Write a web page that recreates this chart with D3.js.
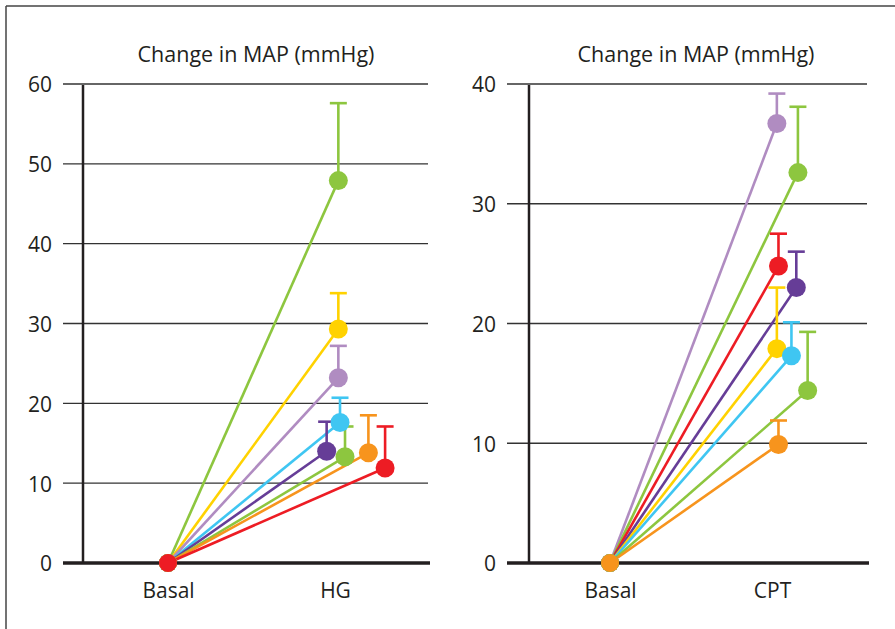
<!DOCTYPE html>
<html>
<head>
<meta charset="utf-8">
<script src="https://cdn.jsdelivr.net/npm/d3@7"></script>
<style>
  body { margin: 0; background: #fff; }
  text { font-family: "Open Sans", "Noto Sans", sans-serif; fill: #231f20; }
</style>
</head>
<body>
<svg id="chart" width="895" height="629"></svg>
<script>
// colours used by the subjects
const GREEN = "#8dc63f", YELLOW = "#ffd200", LILAC = "#b08cc1", CYAN = "#3fc6f2",
      PURPLE = "#663d97", ORANGE = "#f7941d", RED = "#ed1c24";

// left panel: handgrip
const hgCats = ["Basal", "HG"];
const hgTicks = [0, 10, 20, 30, 40, 50, 60];
const hgMean = [47.9, 29.3, 23.2, 17.6, 14.0, 13.3, 13.8, 11.9];
const hgErr = [9.7, 4.5, 4.0, 3.1, 3.7, 3.8, 4.7, 5.2];
const hgColors = [GREEN, YELLOW, LILAC, CYAN, PURPLE, GREEN, ORANGE, RED];
const hgDodge = [0.02, 0.02, 0.02, 0.03, -0.05, 0.06, 0.2, 0.3];

// right panel: cold pressor test
const cptCats = ["Basal", "CPT"];
const cptTicks = [0, 10, 20, 30, 40];
const cptMean = [36.7, 32.6, 24.8, 23.0, 17.9, 17.3, 14.4, 9.9];
const cptErr = [2.5, 5.5, 2.7, 3.0, 5.1, 2.8, 4.9, 2.0];
const cptColors = [LILAC, GREEN, RED, PURPLE, YELLOW, CYAN, GREEN, ORANGE];
const cptDodge = [0.03, 0.16, 0.04, 0.15, 0.03, 0.12, 0.22, 0.04];

const svg = d3.select("#chart");

// figure frame (top and left only)
svg.append("line").attr("x1", 6).attr("x2", 895).attr("y1", 6).attr("y2", 6)
    .attr("stroke", "#444").attr("stroke-width", 1.5);
svg.append("line").attr("x1", 6).attr("x2", 6).attr("y1", 6).attr("y2", 629)
    .attr("stroke", "#444").attr("stroke-width", 1.5);

drawPanel({
    cats: hgCats, ticks: hgTicks, mean: hgMean, err: hgErr, colors: hgColors, dodge: hgDodge,
    x0: 168, x1: 335, axisX: 83, gridL: 63, gridR: 428, titleX: 256
});
drawPanel({
    cats: cptCats, ticks: cptTicks, mean: cptMean, err: cptErr, colors: cptColors, dodge: cptDodge,
    x0: 610, x1: 772, axisX: 529, gridL: 507, gridR: 867, titleX: 696
});

function drawPanel(p) {
    const g = svg.append("g");
    const top = 84, bottom = 563;

    const y = d3.scaleLinear()
        .domain([0, d3.max(p.ticks)])
        .range([bottom, top]);
    const x = d3.scaleLinear()
        .domain([0, 1])
        .range([p.x0, p.x1]);

    g.append("text")
        .attr("x", p.titleX).attr("y", 62)
        .attr("text-anchor", "middle")
        .style("font-size", "21.5px")
        .text("Change in MAP (mmHg)");

    // gridlines
    g.selectAll(".grid")
        .data(p.ticks.filter(t => t > 0))
        .enter().append("line")
        .attr("x1", p.gridL).attr("x2", p.gridR)
        .attr("y1", d => y(d)).attr("y2", d => y(d))
        .attr("stroke", "#333").attr("stroke-width", 1.3);

    // y axis through d3, then restyled
    const yAxis = d3.axisLeft(y).tickValues(p.ticks).tickSize(0).tickPadding(0);
    const ag = g.append("g").attr("transform", `translate(${p.gridL - 11},0)`).call(yAxis);
    ag.select(".domain").remove();
    ag.selectAll("text")
        .style("font-size", "21px")
        .attr("dy", "0.38em");

    // x labels
    const xAxis = d3.axisBottom(x).tickValues([0, 1]).tickFormat((d, i) => p.cats[i]).tickSize(0).tickPadding(0);
    const xg = g.append("g").attr("transform", `translate(0,${bottom + 35})`).call(xAxis);
    xg.select(".domain").remove();
    xg.selectAll("text").style("font-size", "21px").attr("dy", 0);

    // vertical axis and zero line
    g.append("line")
        .attr("x1", p.axisX).attr("x2", p.axisX)
        .attr("y1", y(d3.max(p.ticks)) + 1).attr("y2", bottom)
        .attr("stroke", "#231f20").attr("stroke-width", 2.5);
    g.append("line")
        .attr("x1", p.gridL).attr("x2", p.gridR + 2)
        .attr("y1", bottom).attr("y2", bottom)
        .attr("stroke", "#231f20").attr("stroke-width", 3.5);

    const rows = p.mean.map((m, i) => ({ m, e: p.err[i], c: p.colors[i], dx: 1 + p.dodge[i] }));

    // lines from basal to the response
    g.selectAll(".link")
        .data(rows).enter().append("line")
        .attr("x1", x(0)).attr("y1", y(0))
        .attr("x2", d => x(d.dx)).attr("y2", d => y(d.m))
        .attr("stroke", d => d.c).attr("stroke-width", 2.6);

    // error bars with centred caps
    g.selectAll(".err")
        .data(rows).enter().append("line")
        .attr("x1", d => x(d.dx)).attr("x2", d => x(d.dx))
        .attr("y1", d => y(d.m)).attr("y2", d => y(d.m + d.e))
        .attr("stroke", d => d.c).attr("stroke-width", 2.6);
    g.selectAll(".cap")
        .data(rows).enter().append("line")
        .attr("x1", d => x(d.dx) - 8.5).attr("x2", d => x(d.dx) + 8.5)
        .attr("y1", d => y(d.m + d.e)).attr("y2", d => y(d.m + d.e))
        .attr("stroke", d => d.c).attr("stroke-width", 2.6);

    // response dots
    g.selectAll(".dot")
        .data(rows).enter().append("circle")
        .attr("cx", d => x(d.dx)).attr("cy", d => y(d.m))
        .attr("r", 9.5)
        .attr("fill", d => d.c);

    // basal dots
    g.selectAll(".basal")
        .data(rows).enter().append("circle")
        .attr("cx", x(0)).attr("cy", y(0))
        .attr("r", 9)
        .attr("fill", d => d.c);
}
</script>
</body>
</html>
